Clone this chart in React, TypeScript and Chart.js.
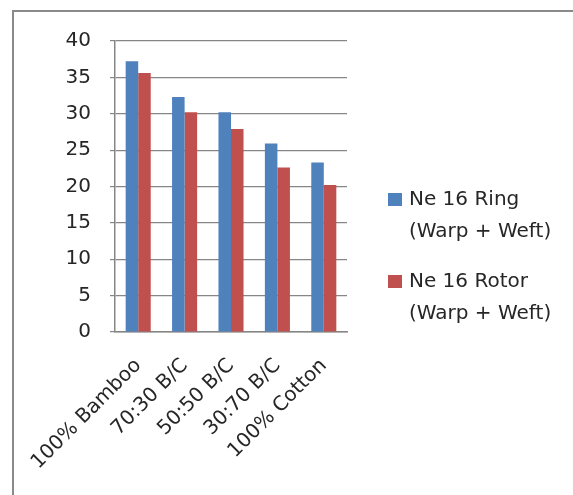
import React, { useEffect, useRef } from "react";
import { Chart, registerables } from "chart.js";

Chart.register(...registerables);

const categories = ["100% Bamboo", "70:30 B/C", "50:50 B/C", "30:70 B/C", "100% Cotton"];
const ringValues = [37.2, 32.3, 30.2, 25.9, 23.3];
const rotorValues = [35.6, 30.2, 27.9, 22.6, 20.2];
const seriesLabels = [
  ["Ne 16 Ring", "(Warp + Weft)"],
  ["Ne 16 Rotor", "(Warp + Weft)"],
];
const yTicks = [0, 5, 10, 15, 20, 25, 30, 35, 40];

const BLUE = "#4F81BD";
const RED = "#C0504D";
const GRID = "#868686";
const TEXT = "#262626";
const FONT = "DejaVu Sans";

const legendPlugin = {
  id: "sideLegend",
  afterDraw(chart: any) {
    const ctx = chart.ctx;
    const area = chart.chartArea;
    const x0 = area.right + 41;
    let y = 200;
    ctx.save();
    ctx.font = `20px "${FONT}"`;
    ctx.textBaseline = "middle";
    ctx.textAlign = "left";
    chart.data.datasets.forEach((ds: any, i: number) => {
      const lines: string[] = seriesLabels[i];
      ctx.fillStyle = ds.backgroundColor;
      ctx.fillRect(x0, y - 7, 14, 13);
      ctx.fillStyle = TEXT;
      lines.forEach((ln, j) => {
        ctx.fillText(ln, x0 + 21, y + j * 32);
      });
      y += 82;
    });
    ctx.restore();
  },
};

export default function App() {
  const ref = useRef<HTMLCanvasElement>(null);
  useEffect(() => {
    if (!ref.current) return;
    const chart = new Chart(ref.current, {
      type: "bar",
      data: {
        labels: categories,
        datasets: [
          { label: seriesLabels[0].join(" "), data: ringValues, backgroundColor: BLUE },
          { label: seriesLabels[1].join(" "), data: rotorValues, backgroundColor: RED },
        ],
      },
      options: {
        animation: false,
        responsive: false,
        maintainAspectRatio: false,
        layout: { padding: { left: 0, top: 41, right: 226, bottom: 0 } },
        plugins: { legend: { display: false }, tooltip: { enabled: false } },
        datasets: { bar: { categoryPercentage: 0.54, barPercentage: 1 } },
        scales: {
          x: {
            grid: { display: false, drawTicks: false },
            border: { display: true, color: GRID, width: 1.5 },
            ticks: {
              maxRotation: 45,
              minRotation: 45,
              autoSkip: false,
              padding: 22,
              color: TEXT,
              font: { family: FONT, size: 20 },
            },
            afterFit(scale: any) {
              scale.height = 163;
            },
          },
          y: {
            min: 0,
            max: 40,
            afterBuildTicks(scale: any) {
              scale.ticks = yTicks.map((v) => ({ value: v }));
            },
            grid: { color: GRID, lineWidth: 1.2, tickLength: 5 },
            border: { display: true, color: GRID, width: 1.5 },
            ticks: {
              padding: 19,
              color: TEXT,
              font: { family: FONT, size: 20 },
            },
            afterFit(scale: any) {
              scale.width = 115;
            },
          },
        },
      },
      plugins: [legendPlugin],
    });
    return () => chart.destroy();
  }, []);
  return (
    <div style={{ position: "absolute", left: 0, top: 0, width: 573, height: 495, background: "#fff", overflow: "hidden" }}>
      <div
        style={{
          position: "absolute",
          left: 12,
          top: 10,
          width: 600,
          height: 600,
          borderLeft: "2px solid #8a8a8a",
          borderTop: "2px solid #8a8a8a",
        }}
      />
      <canvas ref={ref} width={573} height={495} style={{ position: "absolute", left: 0, top: 0, width: 573, height: 495 }} />
    </div>
  );
}
